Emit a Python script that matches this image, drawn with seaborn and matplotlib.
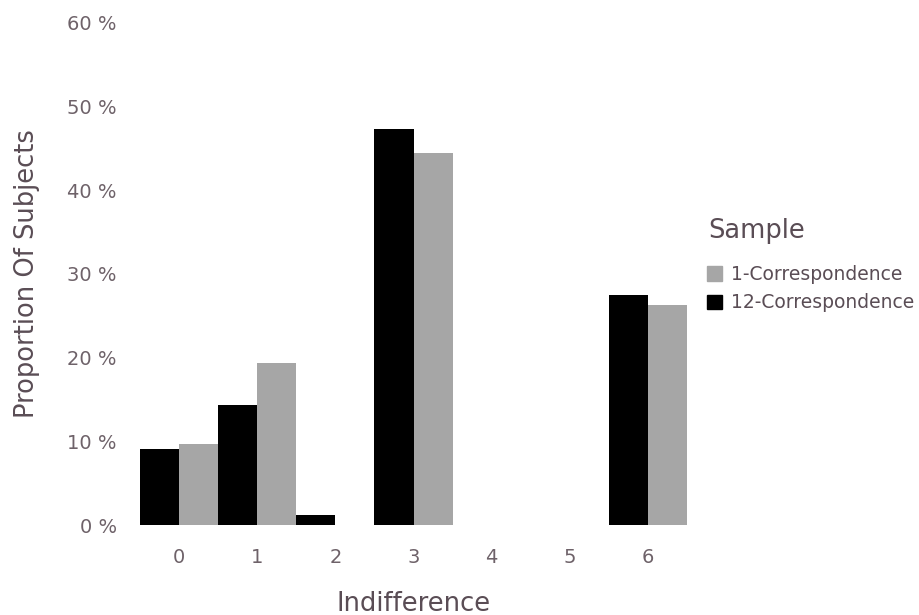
import pandas as pd
import numpy as np
import matplotlib
matplotlib.use('Agg')
import matplotlib.pyplot as plt
import seaborn as sns
from matplotlib.patches import Patch
from matplotlib.ticker import FuncFormatter

# Values (proportion of subjects, in %)
indifference = [0, 1, 2, 3, 4, 5, 6]
corr_12 = [9.1, 14.4, 1.2, 47.3, 0.0, 0.0, 27.5]
corr_1 = [9.7, 19.4, 0.0, 44.4, 0.0, 0.0, 26.3]
samples = ['12-Correspondence', '1-Correspondence']
colors = {'12-Correspondence': '#000000', '1-Correspondence': '#a6a6a6'}
yticks = [0, 10, 20, 30, 40, 50, 60]

df = pd.DataFrame({
    'Indifference': indifference * 2,
    'Proportion': corr_12 + corr_1,
    'Sample': [samples[0]] * len(indifference) + [samples[1]] * len(indifference),
})

sns.set_style('white')
plt.rcParams['font.family'] = ['DejaVu Sans']
tick_col = '#6e6269'
label_col = '#5a4d55'

fig = plt.figure(figsize=(9.2, 6.15), dpi=100)
ax = fig.add_axes([0.152, 0.146, 0.595, 0.817])
sns.barplot(data=df, x='Indifference', y='Proportion', hue='Sample',
            hue_order=samples, order=indifference, palette=colors,
            width=1.0, saturation=1, linewidth=0, ax=ax, legend=False)

ax.set_xlim(-0.5, 6.5)
ax.set_ylim(0, 60)
ax.set_yticks(yticks)
ax.yaxis.set_major_formatter(FuncFormatter(lambda v, p: f'{int(v)} %'))
for s in ax.spines.values():
    s.set_visible(False)
ax.tick_params(axis='both', length=0, labelsize=14, labelcolor=tick_col)
ax.tick_params(axis='x', pad=16.5)
ax.tick_params(axis='y', pad=16.5)
ax.set_xlabel('Indifference', fontsize=18.5, color=label_col, labelpad=17)
ax.set_ylabel('Proportion Of Subjects', fontsize=18.5, color=label_col, labelpad=20)

# legend: title as separate text to match the wider gap
fig.text(708 / 920, 1 - 231 / 615, 'Sample', fontsize=18.5, color=label_col,
         va='center', ha='left')
handles = [Patch(color=colors['1-Correspondence'], label='1-Correspondence'),
           Patch(color=colors['12-Correspondence'], label='12-Correspondence')]
leg = fig.legend(handles=handles, loc='upper left',
                 bbox_to_anchor=(707 / 920, 1 - 265 / 615), frameon=False,
                 fontsize=13.5, handlelength=0.8, handleheight=0.8,
                 handletextpad=0.5, labelspacing=0.5, borderpad=0,
                 borderaxespad=0)
for t in leg.get_texts():
    t.set_color(label_col)

fig.savefig('out.png', dpi=100)
